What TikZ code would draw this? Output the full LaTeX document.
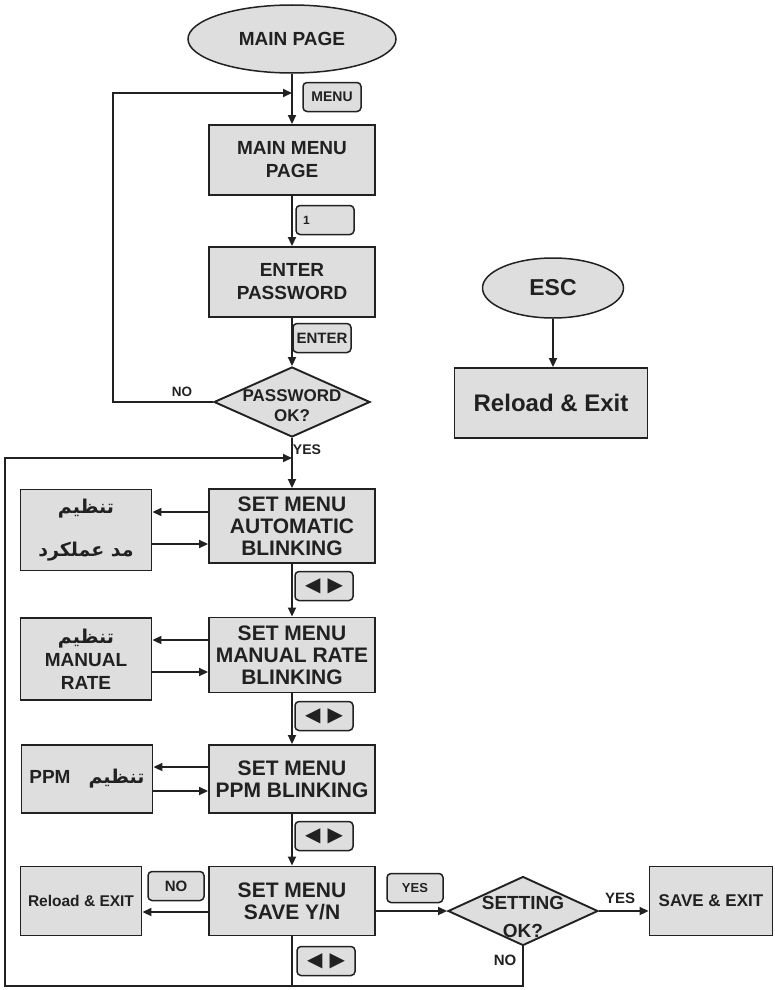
\documentclass[tikz,border=0pt]{standalone}
\usepackage{fontspec}
\setmainfont{Liberation Sans}
\newfontfamily\arabicfont[Script=Arabic]{DejaVu Sans}
\newfontfamily\symfont{DejaVu Sans}
\TeXXeTstate=1
\usetikzlibrary{arrows.meta,shapes.geometric}
\definecolor{boxgray}{gray}{0.87}
\definecolor{linegray}{gray}{0.13}
\newcommand{\fs}[2]{\fontsize{#1}{#2}\selectfont}

\begin{document}
\begin{tikzpicture}[x=1pt, y=-1pt, color=linegray, line width=1.9pt,
  oval/.style={ellipse, draw, fill=boxgray, line width=1.5pt, inner sep=0pt, font=\bfseries\fs{19}{22}},
  blk/.style={draw, fill=boxgray, line width=1.9pt, minimum width=166pt, minimum height=70pt, inner sep=0pt, align=center, font=\bfseries\fs{19}{23}},
  setblk/.style={blk, font=\bfseries\fs{21}{22}},
  sideblk/.style={blk, minimum width=131pt},
  dia/.style={diamond, draw, fill=boxgray, line width=1.9pt, inner sep=0pt},
  keybtn/.style={draw, fill=boxgray, rounded corners=4pt, line width=1.5pt, minimum width=58pt, minimum height=29pt, inner sep=0pt, font=\bfseries\fs{14}{16}},
  arrkey/.style={keybtn, font=\symfont\fs{20}{20}},
  lbl/.style={inner sep=0pt, font=\bfseries\fs{13.5}{15}},
  arr/.style={-{Triangle[length=9pt,width=8pt]}}
]
\useasboundingbox (0,0) rectangle (775,990);

\node[oval, minimum width=208pt, minimum height=68pt] (main) at (292,39) {MAIN PAGE};
\node[keybtn] (kmenu) at (332,97) {MENU};
\node[blk] (mmp) at (292,160) {MAIN MENU\\PAGE};
\node[keybtn, text width=44pt, align=left, font=\bfseries\fs{12}{14}] (kone) at (325,220) {1};
\node[blk] (ep) at (292,282) {ENTER\\PASSWORD};
\node[keybtn, font=\bfseries\fs{15}{16}] (kent) at (322,338) {ENTER};
\node[dia, minimum width=156pt, minimum height=70pt] (pwd) at (292,402) {};
\node[align=center, inner sep=0pt, font=\bfseries\fs{17}{20}] (pwdtxt) at (292,406) {PASSWORD\\OK?};
\node[lbl] (nolbl) at (182,392) {NO};
\node[lbl, font=\bfseries\fs{14}{15}] (yeslbl) at (307,450) {YES};

\node[oval, minimum width=141pt, minimum height=60pt, font=\bfseries\fs{23}{24}] (esc) at (553,288) {ESC};
\node[blk, minimum width=193pt, font=\bfseries\fs{24}{26}] (rx) at (551,403) {Reload \& Exit};

\node[sideblk, minimum height=81pt] (ab1) at (86,530) {{\arabicfont\beginR تنظیم\endR}\\[20pt]{\arabicfont\beginR مد عملکرد\endR}};
\node[setblk, minimum height=74pt] (sa) at (292,526) {SET MENU\\AUTOMATIC\\BLINKING};
\node[arrkey] (kar1) at (324,586) {◀\hspace{7pt}▶};
\node[sideblk, minimum height=82pt] (ab2) at (86,659) {{\arabicfont\beginR تنظیم\endR}\\MANUAL\\RATE};
\node[setblk, minimum height=75pt] (sm) at (292,655) {SET MENU\\MANUAL RATE\\BLINKING};
\node[arrkey] (kar2) at (324,716) {◀\hspace{7pt}▶};
\node[sideblk, minimum height=68pt] (ab3) at (87,779) {PPM\hspace{18pt}{\arabicfont\beginR تنظیم\endR}};
\node[setblk, minimum height=68pt] (sp) at (292,779) {SET MENU\\PPM BLINKING};
\node[arrkey] (kar3) at (324,836) {◀\hspace{7pt}▶};
\node[sideblk, minimum width=121pt, minimum height=69pt, font=\bfseries\fs{15.5}{18}] (rex) at (81,901) {Reload \& EXIT};
\node[keybtn, minimum width=56pt, font=\bfseries\fs{15}{16}] (kno) at (176,886) {NO};
\node[setblk, minimum height=69pt] (sav) at (292,901) {SET MENU\\SAVE Y/N};
\node[arrkey] (kar4) at (326,961) {◀\hspace{7pt}▶};
\node[keybtn, minimum width=56pt, font=\bfseries\fs{13}{14}] (kyes) at (415,888) {YES};
\node[dia, minimum width=150pt, minimum height=69pt] (sok) at (523,911) {};
\node[align=center, inner sep=0pt, font=\bfseries\fs{19}{28}] (soktxt) at (523,917) {SETTING\\OK?};
\node[lbl, font=\bfseries\fs{15}{16}] (yesr) at (620,898) {YES};
\node[lbl, font=\bfseries\fs{15}{16}] (nob) at (505,960) {NO};
\node[blk, minimum width=123pt, minimum height=69pt, font=\bfseries\fs{17}{20}] (sx) at (711,901) {SAVE \& EXIT};

\coordinate (loopl) at (113,93);
\coordinate (loopt) at (5,458);
\coordinate (loopb) at (5,986);

\draw[arr] (main) -- (mmp);
\draw[arr] (mmp) -- (ep);
\draw[arr] (ep) -- (pwd);
\draw[arr] (pwd) -- (sa);
\draw[arr] (sa) -- (sm);
\draw[arr] (sm) -- (sp);
\draw[arr] (sp) -- (sav);
\draw (sav.south) -- (sav.south |- loopb);
\draw[arr] (pwd.west) -| (loopl) -- (loopl -| main);
\draw[arr] (sok.south) |- (loopb) -- (loopt) -- (loopt -| pwd);
\draw[arr] (esc.south) -- (esc.south |- rx.north);

\draw[arr] ([yshift=14pt]sa.west) -- ([yshift=14pt]sa.west -| ab1.east);
\draw[arr] ([yshift=-18pt]sa.west -| ab1.east) -- ([yshift=-18pt]sa.west);
\draw[arr] ([yshift=15pt]sm.west) -- ([yshift=15pt]sm.west -| ab2.east);
\draw[arr] ([yshift=-17pt]sm.west -| ab2.east) -- ([yshift=-17pt]sm.west);
\draw[arr] ([yshift=12pt]sp.west) -- ([yshift=12pt]sp.west -| ab3.east);
\draw[arr] ([yshift=-12pt]sp.west -| ab3.east) -- ([yshift=-12pt]sp.west);
\draw[arr] ([yshift=-11pt]sav.west) -- ([yshift=-11pt]sav.west -| rex.east);
\draw[arr] (sok.west -| sav.east) -- (sok.west);
\draw[arr] (sok.east) -- (sok.east -| sx.west);
\end{tikzpicture}
\end{document}
